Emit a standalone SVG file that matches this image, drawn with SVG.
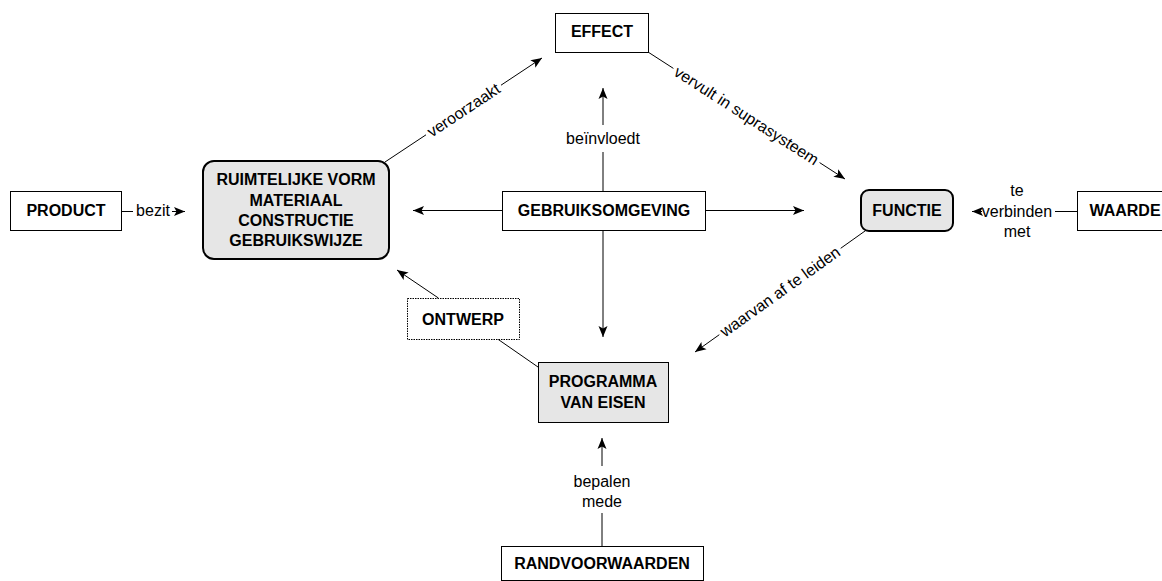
<svg xmlns="http://www.w3.org/2000/svg" width="1162" height="581" viewBox="0 0 1162 581">
<style>
.box{fill:#fff;stroke:#000;stroke-width:1}
.grey{fill:#e6e6e6;stroke:#000;stroke-width:1}
.round{fill:#e6e6e6;stroke:#000;stroke-width:2}
.dot{fill:#fff;stroke:#000;stroke-width:1;stroke-dasharray:1.5 1}
.nt{font-family:"Liberation Sans",Arial,sans-serif;font-weight:bold;font-size:16px;text-anchor:middle;fill:#000}
.lt{font-family:"Liberation Sans",Arial,sans-serif;font-size:16px;text-anchor:middle;fill:#000}
.ln{fill:none;stroke:#000;stroke-width:1}
</style>
<defs>
<marker id="ah" markerUnits="userSpaceOnUse" markerWidth="12" markerHeight="10" refX="11" refY="5" orient="auto">
<path d="M0,0.5 L11,5 L0,9.5 L2.5,5 z" fill="#000"/>
</marker>
</defs>
<g id="connectors">
<path class="ln" d="M121,211.5 H133"/>
<text class="lt" x="153" y="216">bezit</text>
<path class="ln" d="M172,211.5 H185" marker-end="url(#ah)"/>
<path class="ln" d="M385,162 L426,134.8"/>
<path class="ln" d="M501,85.2 L542,58" marker-end="url(#ah)"/>
<text class="lt" transform="translate(463.5,110) rotate(-33.52)" dy="0.35em">veroorzaakt</text>
<path class="ln" d="M648,52 L673.4,68.4"/>
<path class="ln" d="M819.6,162.6 L845,179" marker-end="url(#ah)"/>
<text class="lt" transform="translate(746.5,115.5) rotate(32.8)" dy="0.35em">vervult in suprasysteem</text>
<path class="ln" d="M865,231 L840.7,248.3"/>
<path class="ln" d="M719.3,334.7 L695,352" marker-end="url(#ah)"/>
<text class="lt" transform="translate(780,291.5) rotate(-35.44)" dy="0.35em">waarvan af te leiden</text>
<path class="ln" d="M1077,211.5 H1055"/>
<path class="ln" d="M982,211.5 H972" marker-end="url(#ah)"/>
<text class="lt" x="1017" y="196">te</text>
<text class="lt" x="1017" y="216.5">verbinden</text>
<text class="lt" x="1017" y="237">met</text>
<path class="ln" d="M502,210.5 H413" marker-end="url(#ah)"/>
<path class="ln" d="M705,210.5 H804" marker-end="url(#ah)"/>
<path class="ln" d="M603,191 V152"/>
<path class="ln" d="M603,125 V88" marker-end="url(#ah)"/>
<text class="lt" x="603" y="144">beïnvloedt</text>
<path class="ln" d="M603,230 V337" marker-end="url(#ah)"/>
<path class="ln" d="M602,546 V513"/>
<path class="ln" d="M602,466 V438" marker-end="url(#ah)"/>
<text class="lt" x="602" y="486.5">bepalen</text>
<text class="lt" x="602" y="506.5">mede</text>
<path class="ln" d="M538,367 L497.6,339"/>
<path class="ln" d="M438.4,298 L397,270" marker-end="url(#ah)"/>
</g>
<g id="product">
<rect class="box" x="10.5" y="191.5" width="111" height="39"/>
<text class="nt" x="66" y="216">PRODUCT</text>
</g>
<g id="vorm">
<rect class="round" x="203" y="161" width="186" height="98" rx="11" ry="11"/>
<text class="nt" x="296" y="185">RUIMTELIJKE VORM</text>
<text class="nt" x="296" y="205.5">MATERIAAL</text>
<text class="nt" x="296" y="226">CONSTRUCTIE</text>
<text class="nt" x="296" y="246">GEBRUIKSWIJZE</text>
</g>
<g id="effect">
<rect class="box" x="555.5" y="13.5" width="93" height="39"/>
<text class="nt" x="602" y="37">EFFECT</text>
</g>
<g id="gebruiksomgeving">
<rect class="box" x="502.5" y="191.5" width="203" height="39"/>
<text class="nt" x="604" y="216">GEBRUIKSOMGEVING</text>
</g>
<g id="functie">
<rect class="round" x="861" y="190" width="92" height="41" rx="8" ry="8"/>
<text class="nt" x="907" y="216">FUNCTIE</text>
</g>
<g id="waarde">
<rect class="box" x="1077.5" y="191.5" width="96" height="39"/>
<text class="nt" x="1125" y="216">WAARDE</text>
</g>
<g id="ontwerp">
<rect class="dot" x="407.5" y="298.5" width="112" height="41"/>
<text class="nt" x="463" y="325">ONTWERP</text>
</g>
<g id="programma">
<rect class="grey" x="538.5" y="362.5" width="130" height="60"/>
<text class="nt" x="603" y="387">PROGRAMMA</text>
<text class="nt" x="603" y="408">VAN EISEN</text>
</g>
<g id="randvoorwaarden">
<rect class="box" x="501.5" y="546.5" width="202" height="34"/>
<text class="nt" x="602" y="569">RANDVOORWAARDEN</text>
</g>
</svg>
